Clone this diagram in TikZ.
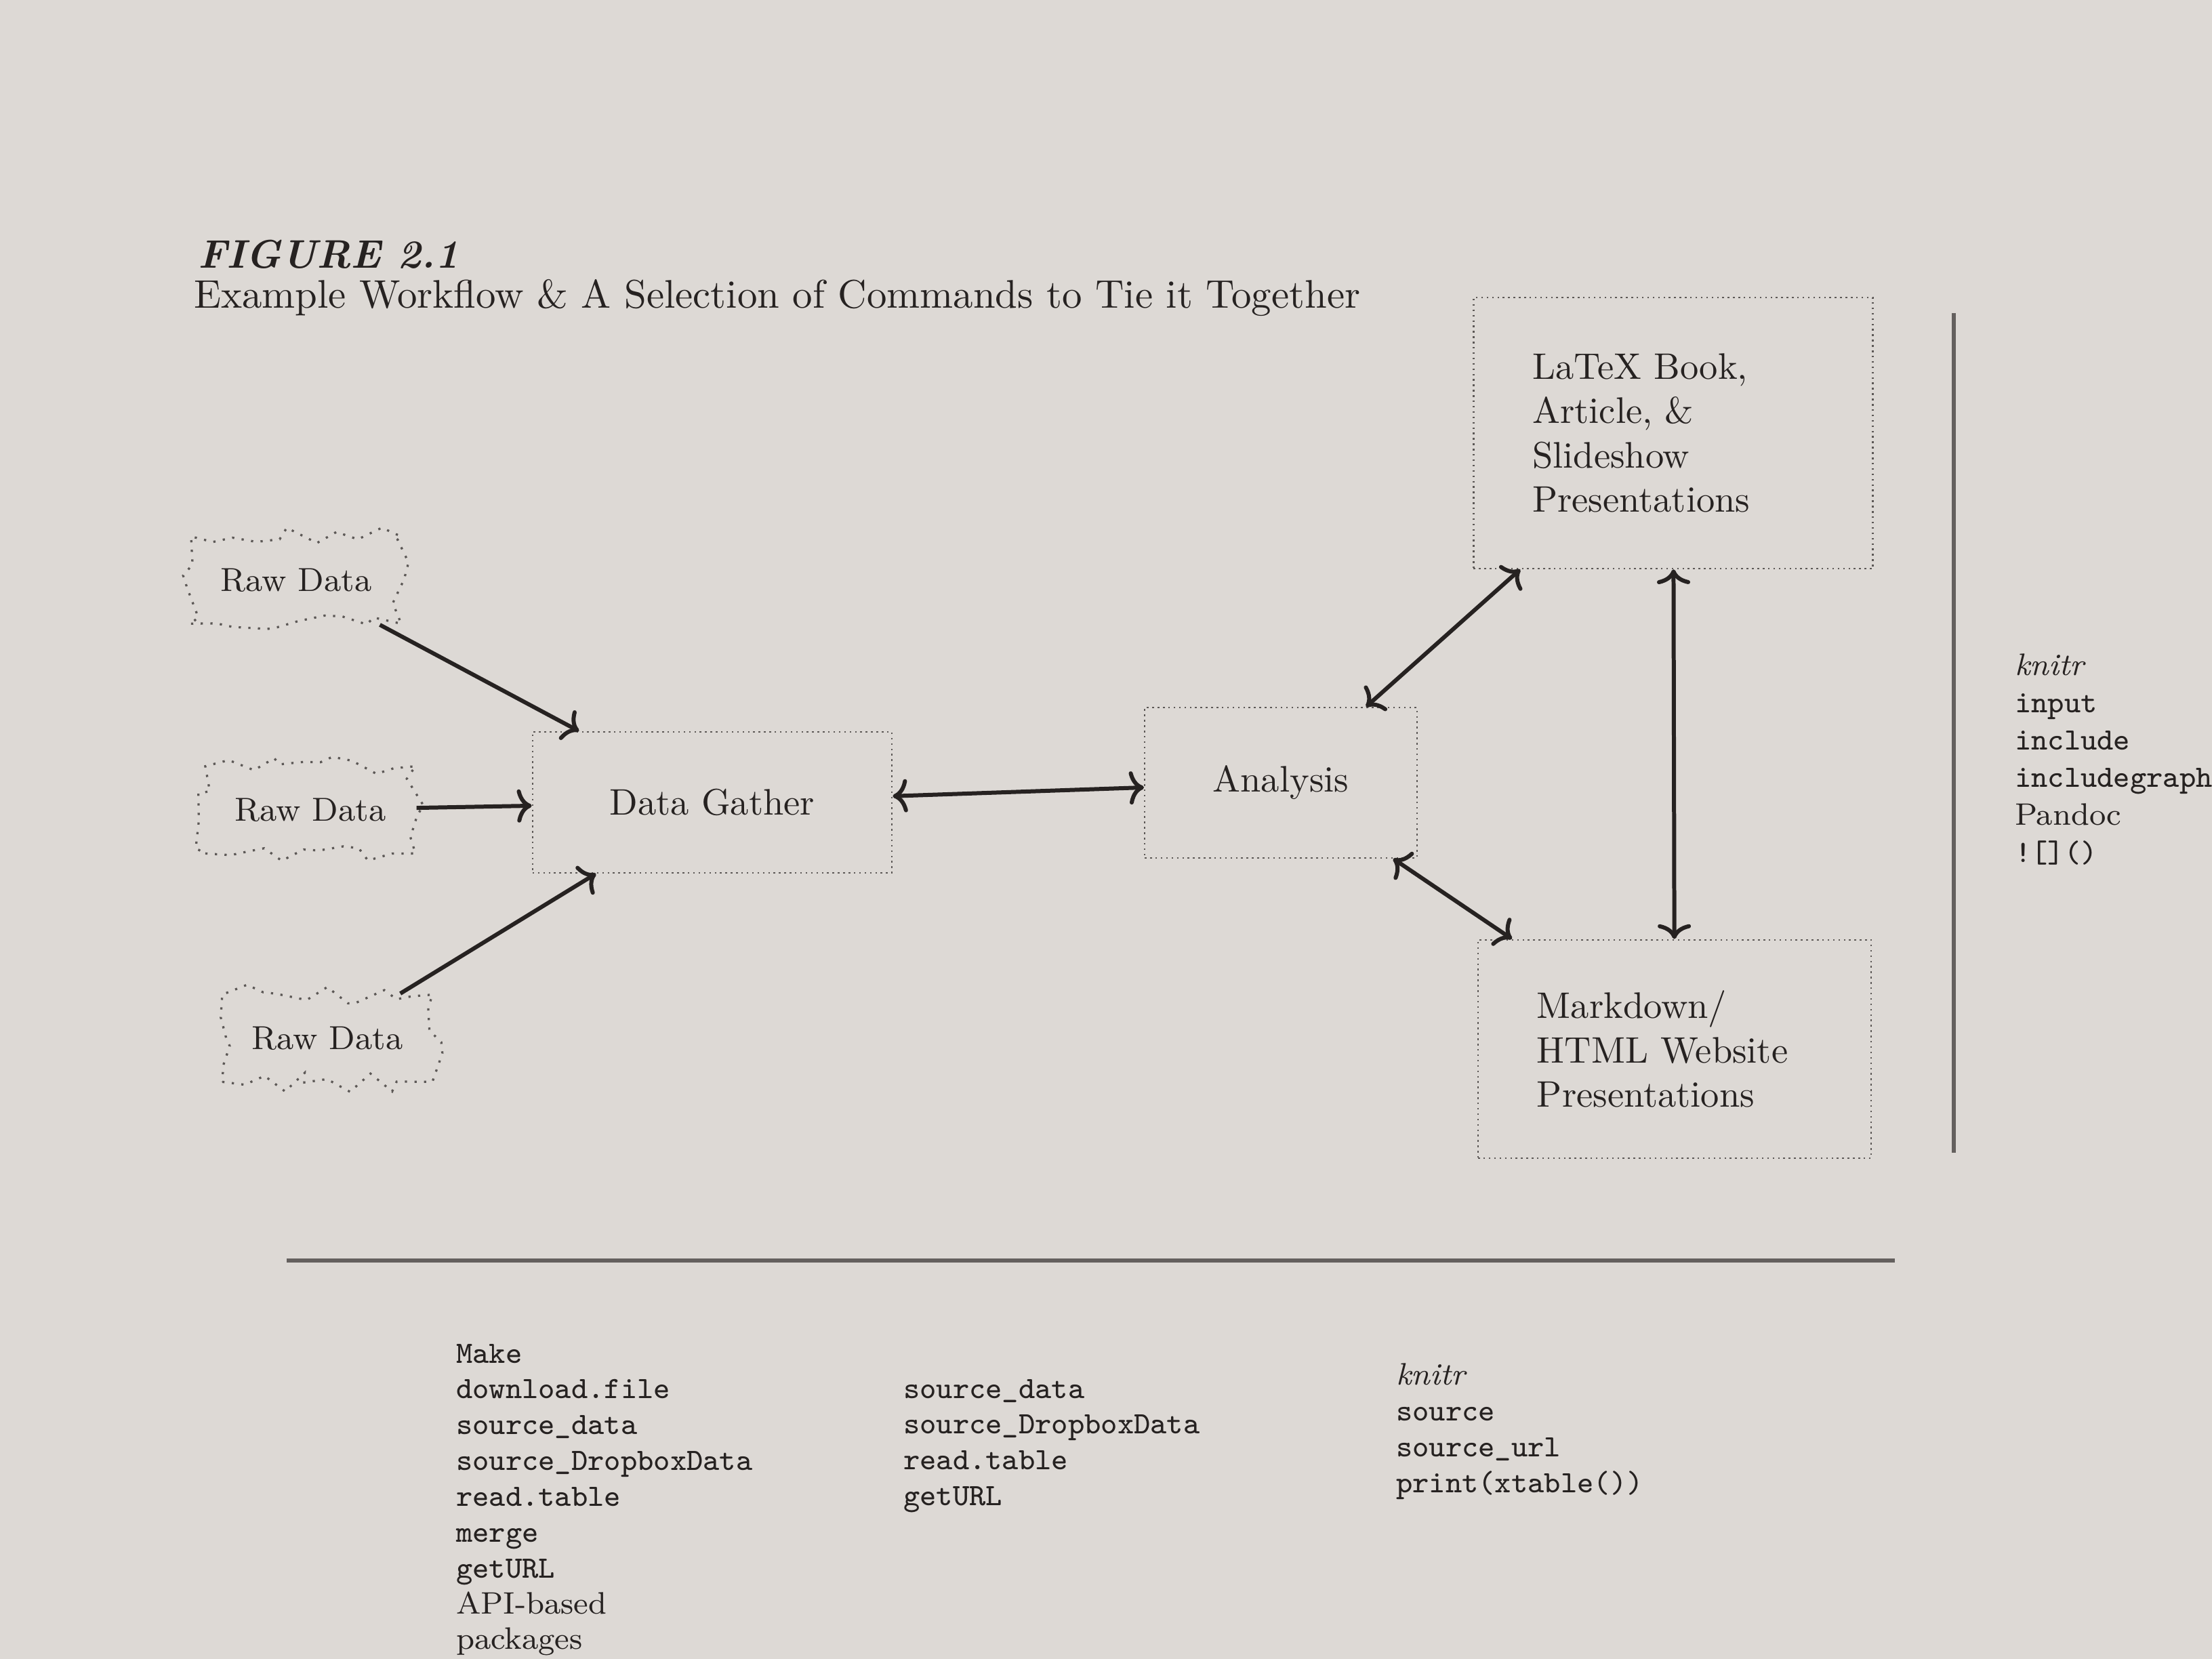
\documentclass[tikz,border=0pt]{standalone}
\usepackage{tikz}
\usetikzlibrary{arrows.meta, decorations.pathmorphing}

\definecolor{paper}{RGB}{221,217,213}
\definecolor{ink}{RGB}{38,34,33}
\definecolor{dotline}{RGB}{92,88,86}
\definecolor{rulegray}{RGB}{100,96,94}

\tikzset{
  stagebox/.style={draw=dotline, densely dotted, line width=0.45pt, text=ink},
  rawbox/.style={draw=dotline, dotted, line width=0.6pt, decorate,
    decoration={random steps, segment length=5pt, amplitude=2.8pt},
    minimum width=2cm, minimum height=0.83cm, text=ink, font=\small},
  feed/.style={draw=ink, line width=1.1pt, -{To[length=4pt,width=9pt]}},
  link/.style={draw=ink, line width=1.1pt, {To[length=4pt,width=9pt]}-{To[length=4pt,width=9pt]}},
  cmdlist/.style={align=left, anchor=north west, inner sep=0pt, text=ink,
    font=\fontsize{8.4}{9.7}\selectfont\ttfamily},
}

\begin{document}
\begin{tikzpicture}[x=0.645cm, y=-0.645cm]
  \pgfmathsetseed{11}
  \fill[paper] (0,0) rectangle (32.64,24.48);
  \useasboundingbox (0,0) rectangle (32.64,24.48);

  % Caption
  \node[anchor=base west, inner sep=0pt, text=ink, font=\fontsize{10.8}{13}\selectfont\bfseries\itshape] (fignum) at (2.91,3.96) {FIGURE 2.1};
  \node[anchor=base west, inner sep=0pt, text=ink, font=\fontsize{10.8}{13}\selectfont] (figcap) at (2.85,4.55) {Example Workflow \& A Selection of Commands to Tie it Together};

  % Sources
  \node[rawbox] (raw1) at (4.37,8.56) {Raw Data};
  \node[rawbox] (raw2) at (4.58,11.95) {Raw Data};
  \node[rawbox] (raw3) at (4.83,15.32) {Raw Data};

  % Stages
  \node[stagebox, minimum width=3.42cm, minimum height=1.34cm] (gather) at (10.51,11.84) {Data Gather};
  \node[stagebox, minimum width=2.59cm, minimum height=1.43cm] (analysis) at (18.90,11.55) {Analysis};
  \node[stagebox, text width=2.68cm, inner xsep=0.56cm, minimum height=2.58cm, align=left] (latex) at (24.69,6.39)
    {LaTeX Book,\\ Article, \&\\ Slideshow\\ Presentations};
  \node[stagebox, text width=2.62cm, inner xsep=0.56cm, minimum height=2.08cm, align=left] (markdown) at (24.71,15.48)
    {Markdown/\\ HTML Website\\ Presentations};

  % Connectors
  \foreach \src in {raw1,raw2,raw3}
    \draw[feed] (\src) -- (gather);
  \draw[link] (gather) -- (analysis);
  \draw[link] (analysis) -- (latex);
  \draw[link] (analysis) -- (markdown);
  \draw[link] (latex) -- (markdown);

  % Rules
  \draw[rulegray, line width=1.2pt] (28.83,4.62) -- (28.83,17.01);
  \draw[rulegray, line width=1.2pt] (4.23,18.60) -- (27.96,18.60);

  % Commands
  \node[cmdlist] (cmdgather) at (6.72,19.82)
    {Make\\ download.file\\ source\_data\\ source\_DropboxData\\ read.table\\ merge\\ getURL\\ {\rmfamily API-based}\\ {\rmfamily packages}};
  \node[cmdlist] (cmdanalysis) at (13.32,20.34)
    {source\_data\\ source\_DropboxData\\ read.table\\ getURL};
  \node[cmdlist] (cmdreport) at (20.59,20.11)
    {{\rmfamily\itshape knitr}\\ source\\ source\_url\\ print(xtable())};
  \node[cmdlist, font=\fontsize{8.4}{10.1}\selectfont\ttfamily] (cmdpresent) at (29.72,9.64)
    {{\rmfamily\itshape knitr}\\ input\\ include\\ includegraph\\ {\rmfamily Pandoc}\\ ![]()};
\end{tikzpicture}
\end{document}
